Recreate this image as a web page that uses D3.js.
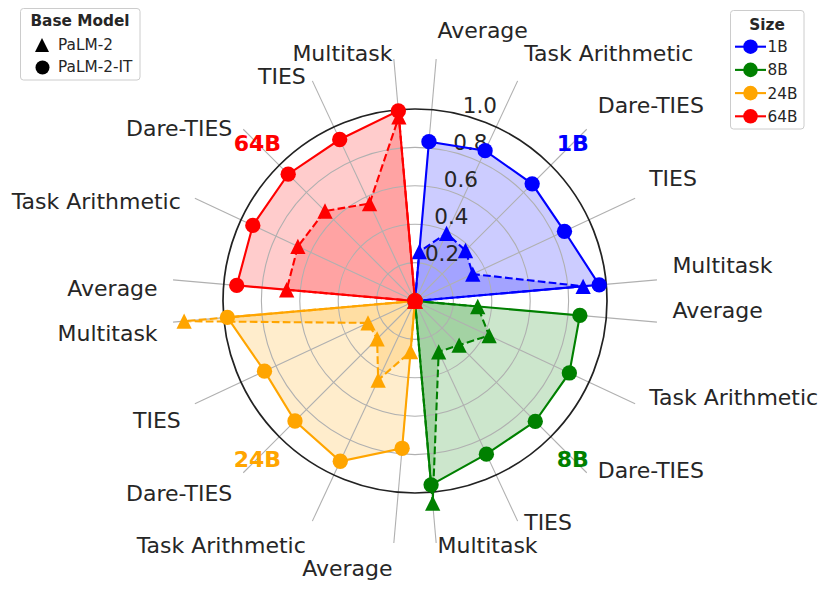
<!DOCTYPE html>
<html>
<head>
<meta charset="utf-8">
<script src="https://cdn.jsdelivr.net/npm/d3@7"></script>
<style>
    body{margin:0;background:#fff;}
    text{font-family:"DejaVu Sans",sans-serif;fill:#262626;}
</style>
</head>
<body>
<div id="graphWrapper"></div>
<script>
//values, clockwise inside each quadrant
const METHODS = ['Average','Task Arithmetic','Dare-TIES','TIES','Multitask'];
const SIZES = ['1B','8B','24B','64B'];
const SIZE_COLORS = ['blue','green','orange','red'];

//PaLM-2-IT scores (circles, solid line)
const IT_1B  = [0.833,0.864,0.863,0.859,0.963];
const IT_8B  = [0.862,0.887,0.886,0.880,0.961];
const IT_24B = [0.770,0.921,0.884,0.865,0.981];
const IT_64B = [0.932,0.932,0.934,0.928,0.994];

//PaLM-2 scores (triangles, dashed line)
const BASE_1B  = [0.258,0.389,0.372,0.332,0.879];
const BASE_8B  = [0.328,0.426,0.325,0.292,1.057];
const BASE_24B = [0.265,0.454,0.279,0.270,1.207];
const BASE_64B = [0.671,0.673,0.663,0.560,0.963];

const R_TICKS = [0.2,0.4,0.6,0.8,1.0];

const IT_SCORES = [IT_1B,IT_8B,IT_24B,IT_64B];
const BASE_SCORES = [BASE_1B,BASE_8B,BASE_24B,BASE_64B];

//layout options
const CONSTANTS = {
    WIDTH:831,
    HEIGHT:589,
    CX:415,          //centre of the polar area
    CY:301,
    RADIUS:192,      //pixel radius of r = 1.0
    SPOKE_MAX:1.265, //spokes run past the outer circle
    LABEL_PAD:15.5,  //gap between spoke end and its label
    FONT:22,
    LEGEND_FONT:15.3,
    MARKER:15.3
};

const svg = d3.select('#graphWrapper')
    .append('svg')
    .attr('width',CONSTANTS.WIDTH)
    .attr('height',CONSTANTS.HEIGHT);

const plot = svg.append('g')
    .attr('transform','translate('+CONSTANTS.CX+','+CONSTANTS.CY+')');

//scales
const rScale = d3.scaleLinear().domain([0,1]).range([0,CONSTANTS.RADIUS]);
//5 spokes per 90 degree quadrant, at 5,25,45,65,85
const methodScale = d3.scalePoint().domain(METHODS).range([0,90]).padding(0.25);
const angleDeg = (g,m) => g * 90 + methodScale(m);
const toRad = d => d * Math.PI / 180;

//every series starts and ends at the centre
function seriesPoints(g,values){
    let pts = [{a:toRad(angleDeg(g,METHODS[0])),r:0}];
    values.forEach((v,i)=>pts.push({a:toRad(angleDeg(g,METHODS[i])),r:rScale(v)}));
    pts.push({a:toRad(angleDeg(g,METHODS[METHODS.length-1])),r:0});
    return pts;
}

const radialLine = d3.lineRadial().angle(d=>d.a).radius(d=>d.r);

//fills sit under everything
SIZES.forEach((s,g)=>{
    [IT_SCORES[g],BASE_SCORES[g]].forEach(vals=>{
        plot.append('path')
            .attr('d',radialLine(seriesPoints(g,vals)) + 'Z')
            .attr('fill',SIZE_COLORS[g])
            .attr('fill-opacity',0.2)
            .attr('stroke','none');
    });
});

//grid rings
plot.selectAll('circle.ring')
    .data(R_TICKS.slice(0,-1))
    .enter()
    .append('circle')
    .attr('class','ring')
    .attr('r',d=>rScale(d))
    .attr('fill','none')
    .attr('stroke','#b0b0b0')
    .attr('stroke-width',1.1);

//spokes
let spokes = [];
SIZES.forEach((s,g)=>METHODS.forEach(m=>spokes.push({g:g,m:m,deg:angleDeg(g,m)})));

plot.selectAll('line.spoke')
    .data(spokes)
    .enter()
    .append('line')
    .attr('class','spoke')
    .attr('x1',0).attr('y1',0)
    .attr('x2',d=>d3.pointRadial(toRad(d.deg),rScale(CONSTANTS.SPOKE_MAX))[0])
    .attr('y2',d=>d3.pointRadial(toRad(d.deg),rScale(CONSTANTS.SPOKE_MAX))[1])
    .attr('stroke','#b0b0b0')
    .attr('stroke-width',1.1);

//radial tick labels
const rLabelAngle = toRad(14.3);
plot.selectAll('text.rtick')
    .data(R_TICKS)
    .enter()
    .append('text')
    .attr('class','rtick')
    .attr('x',d=>d3.pointRadial(rLabelAngle,rScale(d))[0] + 17.5)
    .attr('y',d=>d3.pointRadial(rLabelAngle,rScale(d))[1] - 10.3 + 0.365 * 21.5)
    .attr('text-anchor','middle')
    .style('font-size','21.5px')
    .text(d=>d.toFixed(1));

//outer circle at r = 1
plot.append('circle')
    .attr('r',rScale(1))
    .attr('fill','none')
    .attr('stroke','#222')
    .attr('stroke-width',1.7);

//marker shapes
const half = CONSTANTS.MARKER / 2;
const trianglePath = 'M0,'+(-half)+'L'+half+','+half+'L'+(-half)+','+half+'Z';

function drawMarkers(group,pts,color,kind){
    let sel = group.selectAll(null).data(pts).enter();
    if(kind == 'circle'){
        sel.append('circle')
            .attr('cx',d=>d3.pointRadial(d.a,d.r)[0])
            .attr('cy',d=>d3.pointRadial(d.a,d.r)[1])
            .attr('r',half)
            .attr('fill',color);
    }else{
        sel.append('path')
            .attr('d',trianglePath)
            .attr('transform',d=>'translate('+d3.pointRadial(d.a,d.r)+')')
            .attr('fill',color);
    }
}

//lines and markers
SIZES.forEach((s,g)=>{
    let color = SIZE_COLORS[g];
    let itPts = seriesPoints(g,IT_SCORES[g]);
    let basePts = seriesPoints(g,BASE_SCORES[g]);
    let grp = plot.append('g');

    grp.append('path')
        .attr('d',radialLine(itPts))
        .attr('fill','none')
        .attr('stroke',color)
        .attr('stroke-width',2.1);
    drawMarkers(grp,itPts,color,'circle');

    grp.append('path')
        .attr('d',radialLine(basePts))
        .attr('fill','none')
        .attr('stroke',color)
        .attr('stroke-width',2.1)
        .attr('stroke-dasharray','7.7,3.3');
    drawMarkers(grp,basePts,color,'triangle');
});

//size labels at the middle of each quadrant
plot.selectAll('text.size')
    .data(SIZES)
    .enter()
    .append('text')
    .attr('class','size')
    .attr('x',(d,i)=>d3.pointRadial(toRad(i*90+45),223)[0])
    .attr('y',(d,i)=>d3.pointRadial(toRad(i*90+45),223)[1] + 0.365 * CONSTANTS.FONT)
    .attr('text-anchor','middle')
    .style('font-size',CONSTANTS.FONT+'px')
    .style('font-weight','bold')
    .style('fill',(d,i)=>SIZE_COLORS[i])
    .text(d=>d);

//method labels outside the spoke ends
const labelR = rScale(CONSTANTS.SPOKE_MAX) + CONSTANTS.LABEL_PAD;
plot.selectAll('text.method')
    .data(spokes)
    .enter()
    .append('text')
    .attr('class','method')
    .attr('x',d=>d3.pointRadial(toRad(d.deg),labelR)[0])
    .attr('y',d=>{
        let y = d3.pointRadial(toRad(d.deg),labelR)[1];
        return d.deg < 180 ? y - 5.5 : y + 17.5;
    })
    .attr('text-anchor',d=>d.deg < 180 ? 'start' : 'end')
    .style('font-size',CONSTANTS.FONT+'px')
    .text(d=>d.m);

//legends
function legendBox(x,y,w,h){
    svg.append('rect')
        .attr('x',x).attr('y',y)
        .attr('width',w).attr('height',h)
        .attr('rx',3)
        .attr('fill','white')
        .attr('fill-opacity',0.8)
        .attr('stroke','#cccccc')
        .attr('stroke-width',1);
}

//Base Model legend
legendBox(20.5,8.5,119.5,71.5);
svg.append('text')
    .attr('x',80).attr('y',20.5 + 0.365 * CONSTANTS.LEGEND_FONT)
    .attr('text-anchor','middle')
    .style('font-size',CONSTANTS.LEGEND_FONT+'px')
    .style('font-weight','bold')
    .text('Base Model');

const BASE_LEGEND = [{name:'PaLM-2',kind:'triangle'},{name:'PaLM-2-IT',kind:'circle'}];
BASE_LEGEND.forEach((d,i)=>{
    let y = 45 + i * 22.5;
    if(d.kind == 'circle'){
        svg.append('circle').attr('cx',42.5).attr('cy',y).attr('r',7).attr('fill','black');
    }else{
        svg.append('path')
            .attr('d','M0,-7L7,7L-7,7Z')
            .attr('transform','translate(42,'+y+')')
            .attr('fill','black');
    }
    svg.append('text')
        .attr('x',58)
        .attr('y',y - 1 + 0.365 * CONSTANTS.LEGEND_FONT)
        .style('font-size',CONSTANTS.LEGEND_FONT+'px')
        .text(d.name);
});

//Size legend
legendBox(730.5,10.5,73.5,118.5);
svg.append('text')
    .attr('x',767).attr('y',24 + 0.365 * CONSTANTS.LEGEND_FONT)
    .attr('text-anchor','middle')
    .style('font-size',CONSTANTS.LEGEND_FONT+'px')
    .style('font-weight','bold')
    .text('Size');

SIZES.forEach((s,i)=>{
    let y = 46.7 + i * 23.2;
    svg.append('line')
        .attr('x1',735).attr('x2',766)
        .attr('y1',y).attr('y2',y)
        .attr('stroke',SIZE_COLORS[i])
        .attr('stroke-width',2.1);
    svg.append('circle')
        .attr('cx',750.5).attr('cy',y)
        .attr('r',7.3)
        .attr('fill',SIZE_COLORS[i]);
    svg.append('text')
        .attr('x',767.5)
        .attr('y',y + 0.365 * CONSTANTS.LEGEND_FONT)
        .style('font-size',CONSTANTS.LEGEND_FONT+'px')
        .text(s);
});
</script>
</body>
</html>
